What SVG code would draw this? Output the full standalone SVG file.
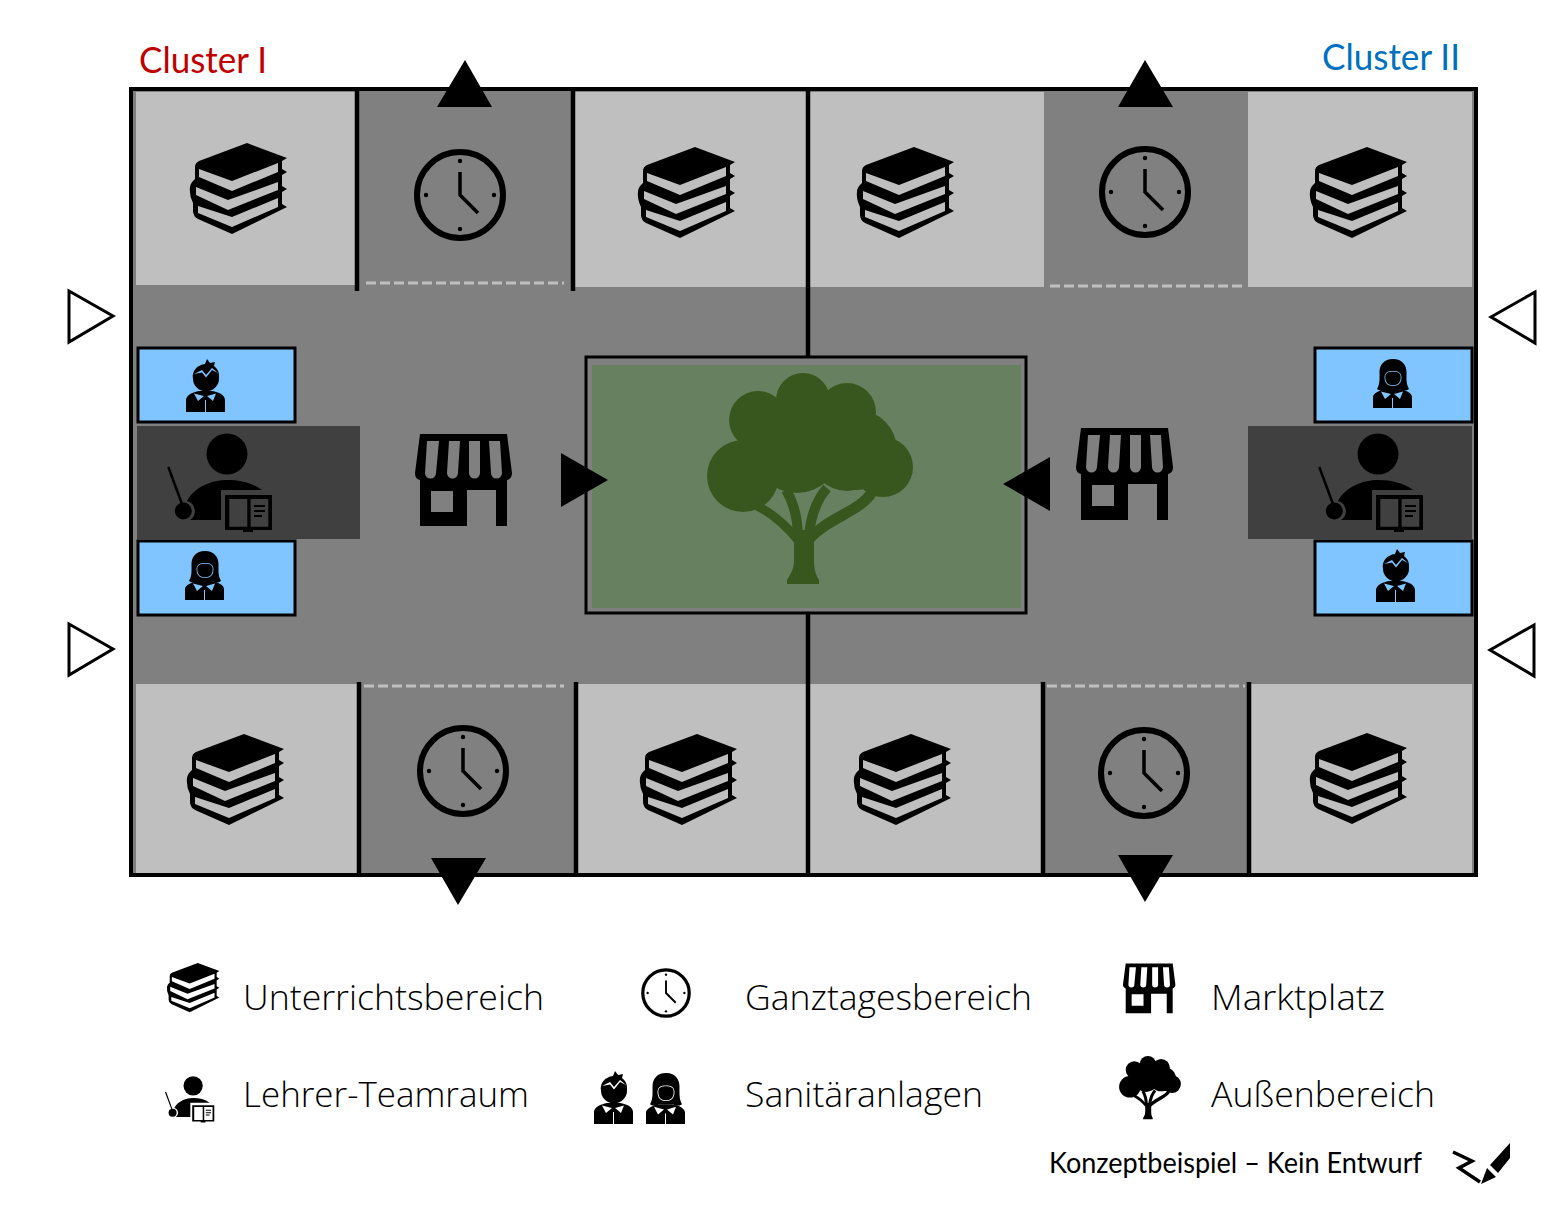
<svg xmlns="http://www.w3.org/2000/svg" width="1541" height="1223" viewBox="0 0 1541 1223">
<style>
.t{font-family:"Open Sans","Noto Sans","Liberation Sans",sans-serif;font-weight:300;font-size:35px;fill:#000}
.c{font-family:"Lato","Open Sans","Liberation Sans",sans-serif;font-size:36px}
.light{fill:#bfbfbf}
.blue{fill:#80c5ff;stroke:#000;stroke-width:3}
.team{fill:#404040}
.wall{stroke:#000;stroke-width:4.500;fill:none}
.dash{stroke:#bfbfbf;stroke-width:3;stroke-dasharray:10 4;fill:none}
.hollow{fill:#fff;stroke:#000;stroke-width:3}
</style>
<defs>
<path id="books" fill-rule="evenodd" d="M57,0 L97,15 L92,18 V26 L97,29 L92,32 V43 L97,46 L92,49 V61 L97,64 L42,91 L8,76 Q3,73 3,68 V60 Q-1,52 0,44 Q1,39 5,36 V24 Q5,20 9,18 Z M9,26 V34 L42,48 L88,29 V20 L42,38 Z M6,44 V52 L38,67 L88,47 V39 L38,57 Z M8,63 V70 L42,84 L88,64 V55 L42,74 Z"/>
<g id="clock"><circle r="43" fill="none" stroke="#000" stroke-width="6"/><path d="M0,-23 V0 L18,18" fill="none" stroke="#000" stroke-width="3.500"/><circle cy="-34" r="2.200"/><circle cy="34" r="2.200"/><circle cx="-34" r="2.200"/><circle cx="34" r="2.200"/></g>
<path id="shop" fill-rule="evenodd" d="M5,1 H92 L97,40 Q97,46 92,47 V93 H81 V57 H52 V93 H5 V47 Q0,46 0,40 Z M16,58 V79 H38 V58 Z M12,8 L10,40 A5.500,5.500 0 0 0 21,40 L24,8 Z M34,8 L32,40 A5.500,5.500 0 0 0 43,40 L45,8 Z M54,8 L54,40 A5.500,5.500 0 0 0 65,40 L65,8 Z M74,8 L76,40 A5.500,5.500 0 0 0 87,40 L85,8 Z"/>
<g id="teacher"><circle cx="62" cy="21" r="20.500"/><path d="M22,68 C30,53 48,47 62,47 C75,47 88,50 97,57 H56 V87 H25 A10.500,10.500 0 0 0 22,68 Z"/><path d="M3.300,34 L17,71" stroke="#000" stroke-width="2.500" fill="none"/><circle cx="18.300" cy="78" r="8.500"/><path fill-rule="evenodd" d="M60,62 H107 V97 H88 V99 H78 V97 H60 Z M64.300,66 V93.700 H82.300 V66 Z M85.600,66 V93.700 H103.300 V66 Z M89,72 V74 H100 V72 Z M89,77 V79 H100 V77 Z M89,82 V84 H97 V82 Z"/></g>
<g id="boy"><path fill-rule="evenodd" d="M19,5 L21,0 L24,4 L29,3 L28,7 C32,10 33.500,14 33,19 A13,13 0 0 1 7,20 C5.500,12 11,6 19,5 Z M8,15 L16,11 L20,16 L26,9 L32,14 L26,11 L20,18.500 L16,13.500 Z"/><path fill-rule="evenodd" d="M0,53 V41 C0,36 7,33 13,32 H26 C33,33 39,36 39,41 V53 Z M8,34.500 L18,37 L12,42 Z M30,34.500 L21,37 L27,42 Z M19,41 V53 H20 V41 Z"/></g>
<g id="girl"><path fill-rule="evenodd" d="M20,0 C29,0 33.500,6 33.500,13 C33.500,20 33,25 36,30 C33,32 30,32 27,30 L13,30 C10,32 7,32 4,30 C7,25 6.500,20 6.500,13 C6.500,6 11,0 20,0 Z M11.500,18 C12,13 15,12 20,12 C25,12 28,13 28.500,18 C28.500,24 25.500,27 20,27 C14.500,27 11.500,24 11.500,18 Z M12.300,18 C12.300,23.500 15,26.200 20,26.200 C25,26.200 27.700,23.500 27.700,18 C27.700,14 24.500,12.800 20,12.800 C15.500,12.800 12.300,14 12.300,18 Z"/><path fill-rule="evenodd" d="M0,49 V38 C0,34 7,31 13,30 H26 C33,31 39,34 39,38 V49 Z M8,32.500 L18,35 L12,40 Z M30,32.500 L21,35 L27,40 Z M19,39 V49 H20 V39 Z"/></g>
<g id="tree"><circle cx="103" cy="30" r="27"/><circle cx="58" cy="50" r="29"/><circle cx="147" cy="42" r="29"/><circle cx="43" cy="106" r="36"/><circle cx="183" cy="97" r="30"/><circle cx="97" cy="80" r="43"/><circle cx="147" cy="83" r="38"/><circle cx="120" cy="60" r="40"/><circle cx="157" cy="80" r="40"/><g fill="none" stroke="currentColor"><path d="M57,136 Q78,146 98,170" stroke-width="9"/><path d="M86,120 Q97,138 98,165" stroke-width="10"/><path d="M127,118 Q112,135 109,165" stroke-width="10"/><path d="M172,122 C160,142 130,146 108,170" stroke-width="11"/></g><path d="M94,160 H114 V190 C114,200 116,205 119,210 V214 H87 V210 C90,205 94,200 94,190 Z"/></g>
</defs>

<g id="plan">
<rect x="131" y="89" width="1345" height="786" fill="#808080" stroke="#000" stroke-width="4"/>
<g id="unterricht-cells" class="light">
<rect x="136" y="92" width="219" height="193"/><rect x="575" y="92" width="232" height="195"/><rect x="810" y="92" width="234" height="195"/><rect x="1248" y="92" width="224" height="195"/>
<rect x="136" y="684" width="222" height="189"/><rect x="578" y="684" width="229" height="189"/><rect x="810" y="684" width="233" height="189"/><rect x="1251" y="684" width="221" height="189"/>
</g>
<g id="walls">
<path class="wall" d="M357,90 V291 M573,90 V291 M808,90 V356 M808,614 V875 M359,682 V875 M576,682 V875 M1043,682 V875 M1249,682 V875"/>
<path class="dash" d="M366,283 H564 M1050,286 H1244 M364,686 H564 M1047,686 H1245"/>
</g>
</g>

<g id="aussenbereich">
<rect x="586" y="357" width="440" height="256" fill="#808080" stroke="#000" stroke-width="3"/>
<rect x="592" y="365" width="429" height="243" fill="#67805f"/>
<use href="#tree" x="700" y="370" fill="#38571f" color="#38571f"/>
</g>

<g id="team-left"><rect class="team" x="137" y="426" width="223" height="113"/><use href="#teacher" x="165" y="433"/></g>
<g id="team-right"><rect class="team" x="1248" y="426" width="224" height="113"/><use href="#teacher" x="1316" y="433"/></g>
<g id="san-1"><rect class="blue" x="138" y="348" width="157" height="74"/><use href="#boy" x="186" y="359"/></g>
<g id="san-2"><rect class="blue" x="138" y="541" width="157" height="74"/><use href="#girl" x="185" y="551"/></g>
<g id="san-3"><rect class="blue" x="1315" y="348" width="157" height="74"/><use href="#girl" x="1373" y="359"/></g>
<g id="san-4"><rect class="blue" x="1315" y="541" width="157" height="74"/><use href="#boy" x="1376" y="549"/></g>

<g id="books-icons">
<use href="#books" x="190" y="143"/><use href="#books" x="638" y="147"/><use href="#books" x="857" y="147"/><use href="#books" x="1310" y="147"/>
<use href="#books" x="187" y="734"/><use href="#books" x="640" y="734"/><use href="#books" x="854" y="734"/><use href="#books" x="1310" y="733"/>
</g>
<g id="clock-icons">
<use href="#clock" x="460" y="195"/><use href="#clock" x="1145" y="192"/><use href="#clock" x="463" y="771"/><use href="#clock" x="1144" y="773"/>
</g>
<g id="marktplatz-left"><use href="#shop" x="415" y="433"/></g>
<g id="marktplatz-right"><use href="#shop" x="1076" y="427"/></g>

<g id="connectors">
<path d="M465,60 L437,107 H492 Z M1145,60 L1118,107 H1173 Z M431,858 H486 L458,905 Z M1118,855 H1173 L1145,902 Z M561,453 L608,480 L561,507 Z M1050,457 L1003,484 L1050,511 Z"/>
<path class="hollow" d="M69,291 L113,316 L69,342 Z M69,624 L113,649 L69,675 Z M1535,292 L1491,317 L1535,343 Z M1534,625 L1490,650 L1534,676 Z"/>
</g>

<text class="c" x="139" y="73" fill="#c00000" textLength="128" lengthAdjust="spacingAndGlyphs">Cluster I</text>
<text class="c" x="1322" y="70" fill="#0070c0" textLength="138" lengthAdjust="spacingAndGlyphs">Cluster II</text>

<g id="legend">
<g id="legend-unterricht"><use href="#books" transform="translate(167,963) scale(.54)"/><text class="t" x="243" y="1010" textLength="301" lengthAdjust="spacingAndGlyphs">Unterrichtsbereich</text></g>
<g id="legend-ganztag"><use href="#clock" transform="translate(666,993) scale(.54)"/><text class="t" x="745" y="1010" textLength="287" lengthAdjust="spacingAndGlyphs">Ganztagesbereich</text></g>
<g id="legend-markt"><use href="#shop" transform="translate(1123,963) scale(.54)"/><text class="t" x="1211" y="1010" textLength="174" lengthAdjust="spacingAndGlyphs">Marktplatz</text></g>
<g id="legend-lehrer"><use href="#teacher" transform="translate(164,1076) scale(.47)"/><text class="t" x="243" y="1107" textLength="286" lengthAdjust="spacingAndGlyphs">Lehrer-Teamraum</text></g>
<g id="legend-sanitaer"><use href="#boy" transform="translate(594,1071)"/><use href="#girl" transform="translate(646,1073) scale(1,1.04)"/><text class="t" x="745" y="1107" textLength="238" lengthAdjust="spacingAndGlyphs">Sanitäranlagen</text></g>
<g id="legend-aussen"><use href="#tree" transform="translate(1117,1055) scale(.3)" color="#000"/><text class="t" x="1211" y="1107" textLength="224" lengthAdjust="spacingAndGlyphs">Außenbereich</text></g>
</g>

<g id="hinweis">
<text x="1049" y="1173" font-family="Lato,'Open Sans','Liberation Sans',sans-serif" font-size="28" fill="#000" textLength="373" lengthAdjust="spacingAndGlyphs">Konzeptbeispiel – Kein Entwurf</text>
<path d="M1453,1152 L1472,1161 L1459,1168 L1480,1182" fill="none" stroke="#000" stroke-width="3.500"/>
<path d="M1490,1165 L1510,1143 V1158 L1498,1173 Z M1487,1168 L1496,1177 L1481,1184 Z"/>
</g>
</svg>
